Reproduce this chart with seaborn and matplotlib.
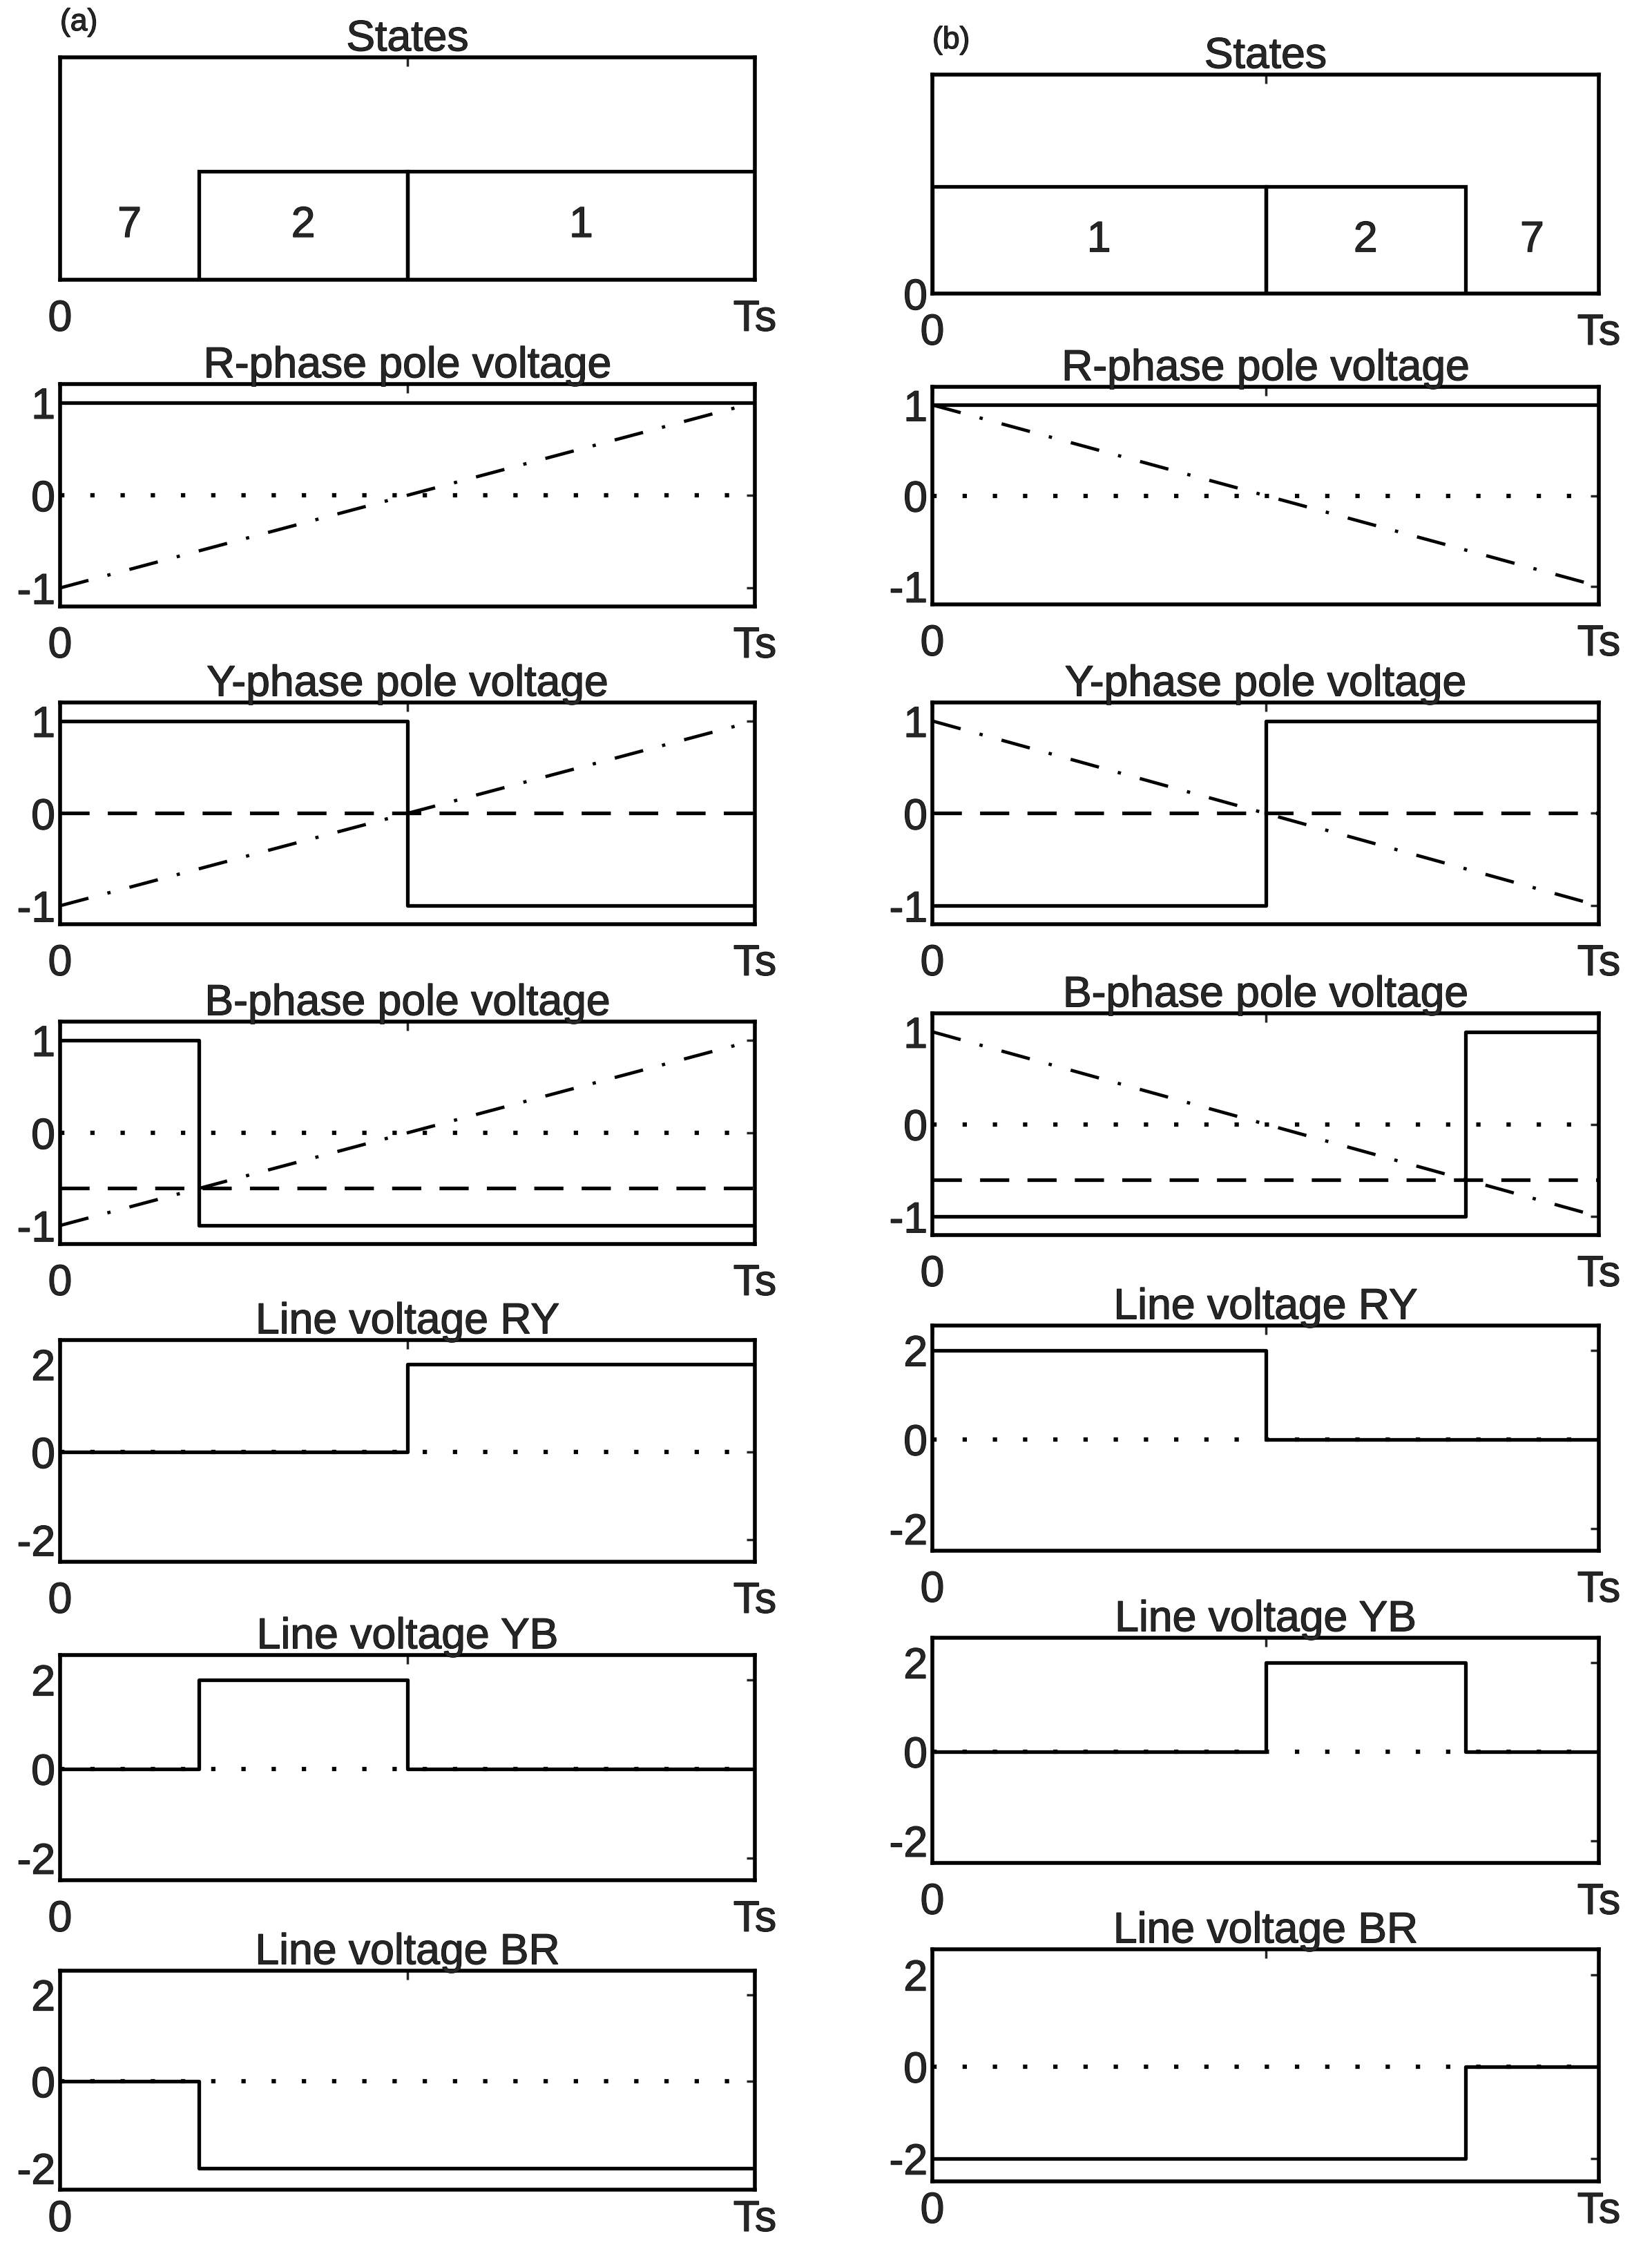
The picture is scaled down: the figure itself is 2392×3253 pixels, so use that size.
import matplotlib
matplotlib.use('Agg')
import matplotlib.pyplot as plt
import matplotlib.patheffects as pe
from matplotlib.text import Text
import seaborn as sns

# =========================
# data (time as fraction of Ts)
# =========================

# switching instants for sequence (a) 7-2-1 and (b) 1-2-7
t_a = [0.0, 0.2, 0.5, 1.0]
t_b = [0.0, 0.5, 0.8, 1.0]

states_a = ['7', '2', '1']
states_b = ['1', '2', '7']
state_level_a = [0, 1, 1]
state_level_b = [1, 1, 0]

# pole voltages (per unit) in each interval
R_a = [1, 1, 1]
Y_a = [1, 1, -1]
B_a = [1, -1, -1]
R_b = [1, 1, 1]
Y_b = [-1, 1, 1]
B_b = [-1, -1, 1]

# line voltages in each interval
RY_a = [0, 0, 2]
YB_a = [0, 2, 0]
BR_a = [0, -2, -2]
RY_b = [2, 0, 0]
YB_b = [0, 2, 0]
BR_b = [-2, -2, 0]

# carrier ramp and references
carrier_t = [0.0, 1.0]
carrier_a = [-1, 1]
carrier_b = [1, -1]
ref_Y = 0.0
ref_B = -0.6

titles = ['States', 'R-phase pole voltage', 'Y-phase pole voltage',
          'B-phase pole voltage', 'Line voltage RY', 'Line voltage YB',
          'Line voltage BR']

# =========================
# style / layout
# =========================
sns.set_style('white')
plt.rcParams['font.family'] = ['Liberation Sans', 'DejaVu Sans']
plt.rcParams['axes.linewidth'] = 4

W, H = 2392, 3253
FS = 45
LW = 3.8
DOT = (0, (1, 6))
DASH = (0, (8, 5))
DASHDOT = (0, (9, 6, 1, 6))

# axes boxes in reference pixels (left, right) and (top, bottom) per row
cols = {'a': (87, 1093), 'b': (1350, 2315)}
rows = {
    'a': [(83, 405), (556, 878), (1017, 1338), (1479, 1801), (1940, 2261), (2396, 2722), (2853, 3170)],
    'b': [(108, 425), (560, 875), (1017, 1338), (1467, 1788), (1919, 2245), (2371, 2697), (2822, 3158)],
}

fig = plt.figure(figsize=(W / 100, H / 100), dpi=100)


def make_ax(col, i):
    l, r = cols[col]
    t, b = rows[col][i]
    return fig.add_axes([l / W, 1 - b / H, (r - l) / W, (b - t) / H])


def step_line(ax, t, vals):
    y = list(vals) + [vals[-1]]
    sns.lineplot(x=t, y=y, ax=ax, drawstyle='steps-post', estimator=None,
                 sort=False, color='k', lw=LW)


def hline(ax, val, ls, lw=LW):
    sns.lineplot(x=[0, 1], y=[val, val], ax=ax, estimator=None, sort=False,
                 color='k', lw=lw, linestyle=ls)


def finish(ax, title, ylim, yticks, xpad=20):
    ax.set_xlim(0, 1)
    ax.set_ylim(*ylim)
    ax.set_xticks([0, 0.5, 1])
    ax.set_xticklabels(['0', '', 'Ts'])
    ax.set_yticks(yticks)
    ax.set_yticklabels([str(v) for v in yticks])
    ax.tick_params(direction='in', top=True, right=True, length=9, width=2.5,
                   labelsize=FS)
    ax.tick_params(axis='x', pad=xpad)
    ax.tick_params(axis='y', pad=5)
    ax.set_title(title, fontsize=FS, pad=7)
    for s in ax.spines.values():
        s.set_color('k')


def draw_column(col, t, labels, levels, poles, carrier, lines):
    # states
    ax = make_ax(col, 0)
    lefts = t[:-1]
    widths = [t[k + 1] - t[k] for k in range(len(lefts))]
    ax.bar(lefts, levels, width=widths, align='edge', fill=False,
           edgecolor='k', linewidth=LW)
    for x0, w, lab in zip(lefts, widths, labels):
        ax.text(x0 + w / 2, 0.5, lab, ha='center', va='center', fontsize=FS)
    finish(ax, titles[0], (0, 2.05), [0] if col == 'b' else [])

    # pole voltages
    refs = [None, ref_Y, ref_B]
    for i, (vals, ref) in enumerate(zip(poles, refs)):
        ax = make_ax(col, i + 1)
        if i != 1:
            hline(ax, 0, DOT, lw=4.5)
        sns.lineplot(x=carrier_t, y=carrier, ax=ax, estimator=None,
                     sort=False, color='k', lw=LW - 0.4, linestyle=DASHDOT)
        if ref is not None:
            hline(ax, ref, DASH)
        step_line(ax, t, vals)
        finish(ax, titles[i + 1], (-1.2, 1.2), [1, 0, -1])

    # line voltages
    for i, vals in enumerate(lines):
        ax = make_ax(col, i + 4)
        hline(ax, 0, DOT, lw=4.5)
        step_line(ax, t, vals)
        finish(ax, titles[i + 4], (-2.5, 2.55), [2, 0, -2],
               xpad=10 if i == 2 else 20)


draw_column('a', t_a, states_a, state_level_a, [R_a, Y_a, B_a], carrier_a,
            [RY_a, YB_a, BR_a])
draw_column('b', t_b, states_b, state_level_b, [R_b, Y_b, B_b], carrier_b,
            [RY_b, YB_b, BR_b])

fig.text(87 / W, 1 - 12 / H, '(a)', fontsize=32, ha='left', va='top')
fig.text(1350 / W, 1 - 38 / H, '(b)', fontsize=32, ha='left', va='top')

# thicken glyphs a little, like the printed original
for txt in fig.findobj(Text):
    txt.set_path_effects([pe.withStroke(linewidth=0.9, foreground='k')])

fig.savefig('out.png', dpi=100, facecolor='white')
